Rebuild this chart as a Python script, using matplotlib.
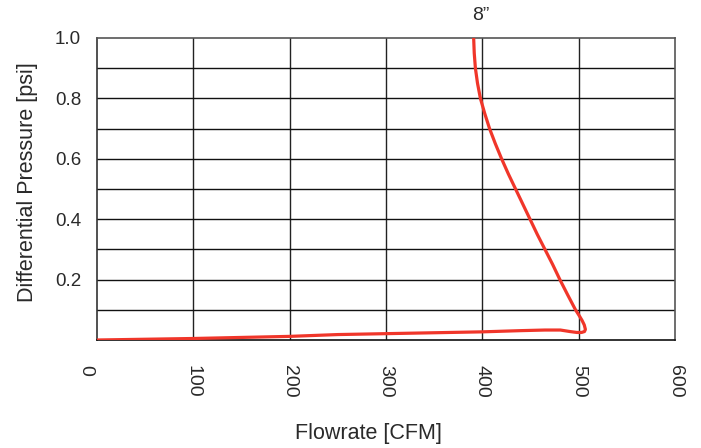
import matplotlib
matplotlib.use("Agg")
import matplotlib.pyplot as plt
from matplotlib.transforms import ScaledTranslation

# Data (Flowrate [CFM], Differential Pressure [psi])
flow = [0, 100, 200, 250, 300, 400, 440, 465, 481, 491, 498, 503, 506, 507,
        505.8, 503.5, 500.3, 496.7, 488.5, 480.5, 473, 465, 457, 449.5, 442,
        434.5, 427, 420, 413.5, 407.5, 402.5, 398, 395, 392.8, 391.6, 391]
dp = [0.0, 0.005, 0.012, 0.018, 0.021, 0.027, 0.031, 0.033, 0.033, 0.028,
      0.025, 0.025, 0.028, 0.035, 0.050, 0.065, 0.082, 0.100, 0.150, 0.200,
      0.250, 0.300, 0.350, 0.400, 0.450, 0.500, 0.550, 0.600, 0.650, 0.700,
      0.750, 0.800, 0.850, 0.900, 0.950, 1.000]

x_ticks = [0, 100, 200, 300, 400, 500, 600]
y_ticks = [0.2, 0.4, 0.6, 0.8, 1.0]
y_grid = [0.1, 0.2, 0.3, 0.4, 0.5, 0.6, 0.7, 0.8, 0.9]
series_label = "8\u201d"

plt.rcParams['font.family'] = ['Liberation Sans', 'DejaVu Sans']

fig = plt.figure(figsize=(7.01, 4.48), dpi=100)
ax = fig.add_axes([97/701, 1-340/448, (675-97)/701, (340-38)/448])

ax.set_xlim(0, 600)
ax.set_ylim(0, 1.0)

for xv in x_ticks[1:-1]:
    ax.axvline(xv, color='#222222', lw=1.0, zorder=1)
for yv in y_grid:
    ax.axhline(yv, color='#111111', lw=1.0, zorder=1)

ax.plot(flow, dp, color='#f0362a', lw=2.3, solid_capstyle='round',
        solid_joinstyle='round', zorder=3)

txt_color = '#2a2a2a'
ax.set_xticks(x_ticks)
ax.set_xticklabels([str(v) for v in x_ticks], rotation=-90, fontsize=14,
                   color=txt_color, va='top', ha='center')
ax.set_yticks(y_ticks)
ax.set_yticklabels([f"{v:.1f}" for v in y_ticks], fontsize=13.5, color=txt_color)
ax.tick_params(axis='x', length=0, pad=18)
ax.tick_params(axis='y', length=0, pad=11.5)

# shift the "0" label slightly left like the reference
lab0 = ax.get_xticklabels()[0]
lab0.set_transform(lab0.get_transform() + ScaledTranslation(-0.11, 0, fig.dpi_scale_trans))

for side, sp in ax.spines.items():
    sp.set_linewidth(1.2)
    sp.set_color('#555555')
ax.spines['bottom'].set_color('#111111')
ax.spines['left'].set_color('#333333')

fig.text(28/701, 1-182/448, "Differential Pressure [psi]", rotation=90,
         ha='center', va='center', fontsize=15.5, color=txt_color)
fig.text(368/701, 1-433/448, "Flowrate [CFM]", ha='center', va='center',
         fontsize=15.5, color=txt_color)
ax.annotate(series_label, xy=(flow[-1], dp[-1]), xytext=(5.5, 16.5),
            textcoords='offset points', ha='center', va='center',
            fontsize=14, color=txt_color, annotation_clip=False)

fig.savefig("out.png", dpi=100)
